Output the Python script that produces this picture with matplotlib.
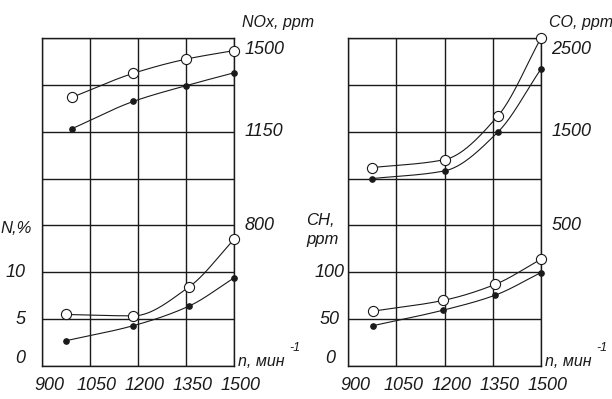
import numpy as np
import matplotlib
matplotlib.use("Agg")
import matplotlib.pyplot as plt

plt.rcParams['font.family'] = ['Liberation Sans', 'DejaVu Sans']
plt.rcParams['font.style'] = 'italic'

# ---------------- data ----------------
x_ticks = [900, 1050, 1200, 1350, 1500]

# left panel
n_N = [975, 1185, 1360, 1500]
N_open = [5.5, 5.35, 8.45, 13.5]
N_fill = [2.7, 4.3, 6.4, 9.4]
n_NOx = [995, 1185, 1350, 1500]
NOx_open = [1279, 1368, 1421, 1453]
NOx_fill = [1162, 1263, 1322, 1370]

# right panel
n_CO = [975, 1200, 1367, 1500]
CO_open = [1117, 1202, 1673, 2500]
CO_fill = [1000, 1082, 1500, 2170]
n_CH = [977, 1196, 1357, 1500]
CH_open = [58.5, 70, 87, 114]
CH_fill = [43, 59.6, 75.5, 99.7]

left_ticks = [0, 5, 10]
nox_ticks = [800, 1150, 1500]
ch_ticks = [0, 50, 100]
co_ticks = [500, 1500, 2500]

INK = '#1a1a1a'


def pchip(x, y, num=200):
    x = np.asarray(x, float)
    y = np.asarray(y, float)
    h = np.diff(x)
    d = np.diff(y) / h
    m = np.zeros_like(y)
    for k in range(1, len(x) - 1):
        if d[k - 1] * d[k] <= 0:
            m[k] = 0
        else:
            w1 = 2 * h[k] + h[k - 1]
            w2 = h[k] + 2 * h[k - 1]
            m[k] = (w1 + w2) / (w1 / d[k - 1] + w2 / d[k])
    m[0] = d[0]
    m[-1] = d[-1]
    xs = np.linspace(x[0], x[-1], num)
    ys = np.empty_like(xs)
    for i, xv in enumerate(xs):
        k = min(np.searchsorted(x, xv, side='right') - 1, len(x) - 2)
        t = (xv - x[k]) / h[k]
        h00 = 2 * t**3 - 3 * t**2 + 1
        h10 = t**3 - 2 * t**2 + t
        h01 = -2 * t**3 + 3 * t**2
        h11 = t**3 - t**2
        ys[i] = h00 * y[k] + h10 * h[k] * m[k] + h01 * y[k + 1] + h11 * h[k] * m[k + 1]
    return xs, ys


def series(ax, x, y, filled):
    xs, ys = pchip(x, y)
    ax.plot(xs, ys, color=INK, lw=0.8, clip_on=False, zorder=3)
    if filled:
        ax.plot(x, y, 'o', ms=3.8, color=INK, clip_on=False, zorder=4)
    else:
        ax.plot(x, y, 'o', ms=7.3, mfc='white', mec=INK, mew=0.8, clip_on=False, zorder=4)


W, H = 612, 399
fig = plt.figure(figsize=(W / 100, H / 100), dpi=100)
FS = 13


def make_panel(left_px, right_px, low_lim, low_ticks, up_lim, up_ticks,
               up_label, left_dx, left_ha):
    top_px, bot_px = 38, 366
    ax = fig.add_axes([left_px / W, (H - bot_px) / H,
                       (right_px - left_px) / W, (bot_px - top_px) / H])
    ax.set_xlim(900, 1500)
    ax.set_ylim(*low_lim)
    step = (low_lim[1] - low_lim[0]) / 7
    ax.set_xticks(x_ticks)
    ax.set_yticks(np.arange(low_lim[0], low_lim[1] + step / 2, step))
    ax.tick_params(length=0, labelbottom=False, labelleft=False)
    ax.grid(True, color=INK, lw=1.0)
    for s in ax.spines.values():
        s.set_color(INK)
        s.set_linewidth(1.0)
    ax2 = ax.twinx()
    ax2.set_ylim(*up_lim)
    ax2.set_yticks([])
    for s in ax2.spines.values():
        s.set_visible(False)

    # bottom x tick labels
    for v in x_ticks:
        ax.annotate(str(v), xy=(v, 0), xycoords=('data', 'axes fraction'),
                    xytext=(5, -14), textcoords='offset points',
                    ha='center', va='center', fontsize=FS, color=INK,
                    annotation_clip=False)
    # left tick labels (the 0 is lifted a little, as in the source)
    for v in low_ticks:
        dy = 5.5 if v == 0 else 0
        ax.annotate(str(v), xy=(0, v), xycoords=('axes fraction', 'data'),
                    xytext=(left_dx, dy), textcoords='offset points',
                    ha=left_ha, va='center', fontsize=FS, color=INK,
                    annotation_clip=False)
    # right tick labels (top one drawn a little lower, as in the source)
    for i, v in enumerate(up_ticks):
        dy = -8.5 if i == len(up_ticks) - 1 else 0
        ax2.annotate(str(v), xy=(1, v), xycoords=('axes fraction', 'data'),
                     xytext=(7.5, dy), textcoords='offset points',
                     ha='left', va='center', fontsize=FS, color=INK,
                     annotation_clip=False)
    # axis titles
    ax.annotate(up_label, xy=(1, 1), xycoords='axes fraction',
                xytext=(6, 11), textcoords='offset points',
                ha='left', va='center', fontsize=11.5, color=INK,
                annotation_clip=False)
    ax.annotate('n, мин', xy=(1, 0), xycoords='axes fraction',
                xytext=(3, 3), textcoords='offset points',
                ha='left', va='center', fontsize=11.5, color=INK,
                annotation_clip=False)
    ax.annotate('-1', xy=(1, 0), xycoords='axes fraction',
                xytext=(40, 13), textcoords='offset points',
                ha='left', va='center', fontsize=9, color=INK,
                annotation_clip=False)
    return ax, ax2


axL, axL2 = make_panel(42, 234, (0, 35), left_ticks, (275, 1500), nox_ticks,
                       'NOx, ppm', -12, 'right')
axL.text(-0.215, 14.7, 'N,%', fontsize=12, color=INK, ha='left', va='center',
         transform=axL.get_yaxis_transform(), clip_on=False)

series(axL, n_N, N_open, False)
series(axL, n_N, N_fill, True)
series(axL2, n_NOx, NOx_open, False)
series(axL2, n_NOx, NOx_fill, True)

axR, axR2 = make_panel(348, 541, (0, 350), ch_ticks, (-1000, 2500), co_ticks,
                       'CO, ppm', -13, 'center')
axR.text(-0.215, 145, 'CH,\nppm', fontsize=12, color=INK, ha='left', va='center',
         transform=axR.get_yaxis_transform(), clip_on=False, linespacing=1.3)

series(axR, n_CH, CH_open, False)
series(axR, n_CH, CH_fill, True)
series(axR2, n_CO, CO_open, False)
series(axR2, n_CO, CO_fill, True)

fig.savefig('out.png', dpi=100, facecolor='white')
